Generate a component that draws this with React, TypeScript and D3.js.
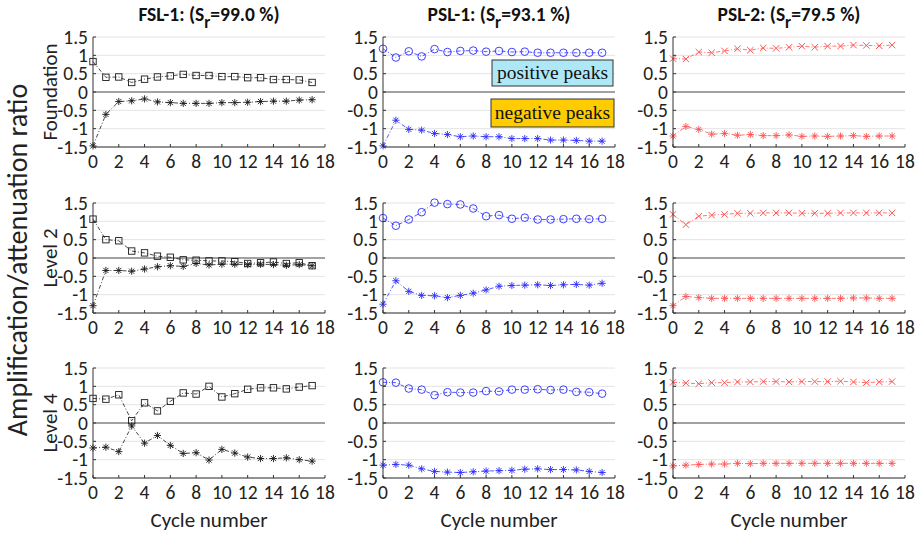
import React from "react";
import * as d3 from "d3";

const cycles = [0, 1, 2, 3, 4, 5, 6, 7, 8, 9, 10, 11, 12, 13, 14, 15, 16, 17];
const xTicks = [0, 2, 4, 6, 8, 10, 12, 14, 16, 18];
const yTicks = [-1.5, -1, -0.5, 0, 0.5, 1, 1.5];
const yTickLabels = ["-1.5", "-1", "-0.5", "0", "0.5", "1", "1.5"];

const columnTitles = ["FSL-1: (S", "PSL-1: (S", "PSL-2: (S"];
const columnSr = ["=99.0 %)", "=93.1 %)", "=79.5 %)"];
const rowLabels = ["Foundation", "Level 2", "Level 4"];

// FSL-1
const fslFoundationPos = [0.83, 0.4, 0.41, 0.26, 0.35, 0.41, 0.44, 0.48, 0.45, 0.45, 0.42, 0.42, 0.39, 0.39, 0.34, 0.34, 0.33, 0.26];
const fslFoundationNeg = [-1.47, -0.61, -0.26, -0.24, -0.19, -0.27, -0.29, -0.31, -0.31, -0.31, -0.29, -0.29, -0.28, -0.26, -0.25, -0.25, -0.22, -0.21];
const fslLevel2Pos = [1.06, 0.5, 0.47, 0.19, 0.14, 0.05, 0.02, -0.05, -0.06, -0.08, -0.08, -0.1, -0.15, -0.13, -0.11, -0.15, -0.13, -0.21];
const fslLevel2Neg = [-1.3, -0.34, -0.34, -0.36, -0.3, -0.24, -0.21, -0.23, -0.15, -0.19, -0.17, -0.17, -0.18, -0.17, -0.18, -0.2, -0.18, -0.21];
const fslLevel4Pos = [0.67, 0.65, 0.77, 0.06, 0.55, 0.33, 0.59, 0.82, 0.79, 1.0, 0.71, 0.8, 0.92, 0.96, 0.96, 0.93, 0.98, 1.02];
const fslLevel4Neg = [-0.68, -0.66, -0.78, -0.08, -0.55, -0.34, -0.61, -0.83, -0.81, -1.01, -0.72, -0.82, -0.93, -0.97, -0.97, -0.95, -1.0, -1.04];

// PSL-1
const psl1FoundationPos = [1.18, 0.94, 1.11, 0.97, 1.17, 1.09, 1.12, 1.13, 1.1, 1.12, 1.09, 1.1, 1.07, 1.07, 1.07, 1.07, 1.07, 1.07];
const psl1FoundationNeg = [-1.47, -0.77, -1.02, -1.04, -1.13, -1.16, -1.22, -1.2, -1.22, -1.22, -1.27, -1.27, -1.27, -1.31, -1.31, -1.32, -1.34, -1.34];
const psl1Level2Pos = [1.09, 0.88, 1.05, 1.25, 1.51, 1.47, 1.46, 1.35, 1.14, 1.17, 1.07, 1.1, 1.05, 1.05, 1.06, 1.07, 1.06, 1.07];
const psl1Level2Neg = [-1.26, -0.62, -0.91, -1.02, -1.03, -1.08, -1.02, -0.96, -0.87, -0.77, -0.75, -0.74, -0.73, -0.75, -0.73, -0.72, -0.74, -0.69];
const psl1Level4Pos = [1.11, 1.1, 0.94, 0.91, 0.76, 0.84, 0.83, 0.83, 0.87, 0.86, 0.91, 0.91, 0.92, 0.9, 0.91, 0.85, 0.84, 0.8];
const psl1Level4Neg = [-1.15, -1.13, -1.15, -1.25, -1.32, -1.34, -1.35, -1.33, -1.31, -1.3, -1.29, -1.26, -1.25, -1.27, -1.27, -1.28, -1.32, -1.35];

// PSL-2
const psl2FoundationPos = [0.91, 0.9, 1.09, 1.07, 1.12, 1.18, 1.14, 1.2, 1.19, 1.22, 1.25, 1.22, 1.25, 1.25, 1.28, 1.27, 1.26, 1.28];
const psl2FoundationNeg = [-1.2, -0.94, -1.02, -1.15, -1.13, -1.18, -1.16, -1.19, -1.19, -1.17, -1.21, -1.2, -1.21, -1.2, -1.19, -1.21, -1.2, -1.2];
const psl2Level2Pos = [1.19, 0.91, 1.14, 1.17, 1.19, 1.22, 1.22, 1.23, 1.23, 1.23, 1.22, 1.22, 1.22, 1.23, 1.23, 1.23, 1.23, 1.23];
const psl2Level2Neg = [-1.3, -1.05, -1.08, -1.1, -1.1, -1.1, -1.1, -1.1, -1.1, -1.1, -1.1, -1.1, -1.1, -1.1, -1.09, -1.09, -1.1, -1.1];
const psl2Level4Pos = [1.11, 1.09, 1.07, 1.1, 1.1, 1.12, 1.12, 1.13, 1.13, 1.12, 1.13, 1.13, 1.13, 1.14, 1.12, 1.1, 1.12, 1.13];
const psl2Level4Neg = [-1.17, -1.15, -1.13, -1.12, -1.12, -1.1, -1.11, -1.1, -1.1, -1.1, -1.1, -1.1, -1.1, -1.1, -1.1, -1.1, -1.1, -1.1];

const seriesGrid = [
  [[fslFoundationPos, fslFoundationNeg], [psl1FoundationPos, psl1FoundationNeg], [psl2FoundationPos, psl2FoundationNeg]],
  [[fslLevel2Pos, fslLevel2Neg], [psl1Level2Pos, psl1Level2Neg], [psl2Level2Pos, psl2Level2Neg]],
  [[fslLevel4Pos, fslLevel4Neg], [psl1Level4Pos, psl1Level4Neg], [psl2Level4Pos, psl2Level4Neg]],
];

const colColors = ["#1a1a1a", "#2b2bff", "#ff3535"];
const posMarkers = ["square", "circle", "x"];

const colLeft = [93, 383, 673];
const rowTop = [37, 203, 368];
const PW = 232;
const PH = 110;
const FONT = "Carlito, Calibri, 'Open Sans', sans-serif";
const TICK_FS = 19.5;

const x = d3.scaleLinear().domain([0, 18]).range([0, PW]);
const y = d3.scaleLinear().domain([-1.5, 1.5]).range([PH, 0]);

function Marker({ type, cx, cy, color }: { type: string; cx: number; cy: number; color: string }) {
  const s = 3.2;
  if (type === "square") {
    return <rect x={cx - s} y={cy - s} width={2 * s} height={2 * s} fill="none" stroke={color} strokeWidth={0.9} />;
  }
  if (type === "circle") {
    return <circle cx={cx} cy={cy} r={3.8} fill="none" stroke={color} strokeWidth={0.9} />;
  }
  if (type === "x") {
    return (
      <path d={`M${cx - s},${cy - s}L${cx + s},${cy + s}M${cx - s},${cy + s}L${cx + s},${cy - s}`} stroke={color} strokeWidth={1} />
    );
  }
  const a = 3.6;
  const d = a * 0.72;
  return (
    <path
      d={`M${cx - a},${cy}L${cx + a},${cy}M${cx},${cy - a}L${cx},${cy + a}M${cx - d},${cy - d}L${cx + d},${cy + d}M${cx - d},${cy + d}L${cx + d},${cy - d}`}
      stroke={color}
      strokeWidth={0.9}
    />
  );
}

function Panel({ row, col }: { row: number; col: number }) {
  const [pos, neg] = seriesGrid[row][col];
  const color = colColors[col];
  const line = d3
    .line<number>()
    .x((_, i) => x(cycles[i]))
    .y((v) => y(v));
  const opacity = col === 2 ? 0.85 : 1;
  return (
    <g transform={`translate(${colLeft[col]},${rowTop[row]})`}>
      {yTicks.filter((t) => t !== 0).map((t) => (
        <line key={t} x1={0} x2={PW} y1={y(t)} y2={y(t)} stroke="#e4e4e4" strokeWidth={1} />
      ))}
      <line x1={0} x2={PW} y1={y(0)} y2={y(0)} stroke="#444" strokeWidth={1} />
      <g opacity={opacity}>
        <path d={line(pos) || ""} fill="none" stroke={color} strokeWidth={0.8} strokeDasharray="4,2,1,2" />
        <path d={line(neg) || ""} fill="none" stroke={color} strokeWidth={0.8} strokeDasharray="4,2,1,2" />
        {pos.map((v, i) => (
          <Marker key={"p" + i} type={posMarkers[col]} cx={x(cycles[i])} cy={y(v)} color={color} />
        ))}
        {neg.map((v, i) => (
          <Marker key={"n" + i} type="asterisk" cx={x(cycles[i])} cy={y(v)} color={color} />
        ))}
      </g>
      <line x1={0} x2={0} y1={0} y2={PH} stroke="#333" strokeWidth={1} />
      <line x1={0} x2={PW} y1={PH} y2={PH} stroke="#333" strokeWidth={1} />
      {xTicks.map((t) => (
        <line key={"xt" + t} x1={x(t)} x2={x(t)} y1={PH} y2={PH - 3} stroke="#333" strokeWidth={1} />
      ))}
      {yTicks.map((t) => (
        <line key={"yt" + t} x1={0} x2={3} y1={y(t)} y2={y(t)} stroke="#333" strokeWidth={1} />
      ))}
      {yTicks.map((t, i) => (
        <text key={"yl" + t} x={-5} y={y(t)} dy="0.34em" textAnchor="end" fontSize={TICK_FS} fontFamily={FONT} fill="#222">
          {yTickLabels[i]}
        </text>
      ))}
      {xTicks.map((t) => (
        <text key={"xl" + t} x={x(t)} y={PH + 21} textAnchor="middle" fontSize={TICK_FS} fontFamily={FONT} fill="#222">
          {t}
        </text>
      ))}
    </g>
  );
}

export default function App() {
  return (
    <svg width={921} height={535} style={{ position: "absolute", left: 0, top: 0, background: "#fff" }}>
      <rect x={0} y={0} width={921} height={535} fill="#fff" />
      {rowTop.map((_, r) => colLeft.map((_, c) => <Panel key={r + "-" + c} row={r} col={c} />))}
      {colLeft.map((cx, c) => (
        <text key={"t" + c} x={cx + PW / 2} y={21} textAnchor="middle" fontSize={19.5} fontWeight="bold" fontFamily={FONT} fill="#111">
          {columnTitles[c]}
          <tspan dy={7} fontSize={17}>r</tspan>
          <tspan dy={-7}>{columnSr[c]}</tspan>
        </text>
      ))}
      {colLeft.map((cx, c) => (
        <text key={"xl" + c} x={cx + PW / 2} y={527} textAnchor="middle" fontSize={21} fontFamily={FONT} fill="#222">
          Cycle number
        </text>
      ))}
      {rowTop.map((ry, r) => (
        <text
          key={"rl" + r}
          transform={`translate(${57},${ry + PH / 2}) rotate(-90)`}
          textAnchor="middle"
          fontSize={21}
          fontFamily={FONT}
          fill="#222"
        >
          {rowLabels[r]}
        </text>
      ))}
      <text transform={`translate(27,260) rotate(-90)`} textAnchor="middle" fontSize={28} fontFamily={FONT} fill="#222">
        Amplification/attenuation ratio
      </text>
      <g>
        <rect x={492} y={60} width={121} height={26} fill="#aee8f6" stroke="#333" strokeWidth={1} />
        <text x={552.5} y={79} textAnchor="middle" fontSize={19.5} fontFamily="'Liberation Serif', 'Times New Roman', serif" fill="#111">
          positive peaks
        </text>
        <rect x={491} y={99} width={123} height={28} fill="#ffcc00" stroke="#333" strokeWidth={1} />
        <text x={552.5} y={119} textAnchor="middle" fontSize={19.5} fontFamily="'Liberation Serif', 'Times New Roman', serif" fill="#111">
          negative peaks
        </text>
      </g>
    </svg>
  );
}
